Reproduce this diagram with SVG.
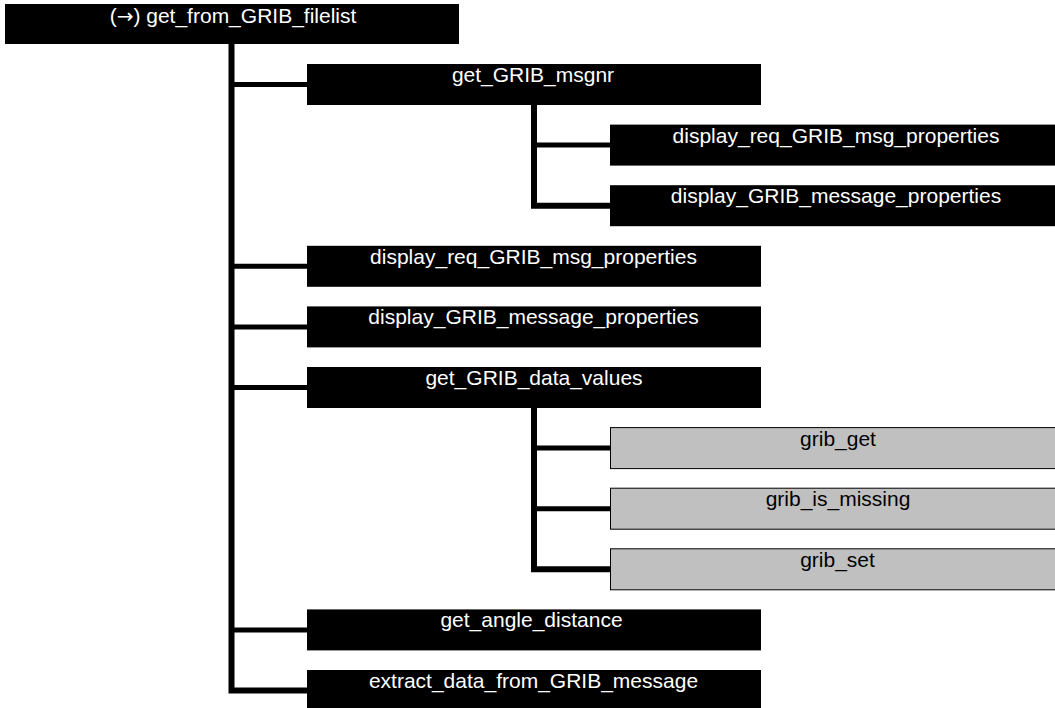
<svg xmlns="http://www.w3.org/2000/svg" width="1055" height="708" viewBox="0 0 1055 708">
<style>
.box{fill:#000;}
.leaf{fill:#c0c0c0;stroke:#000;stroke-width:1;}
.t{font-family:"Liberation Sans",Arial,sans-serif;font-size:21px;text-anchor:middle;fill:#fff;}
.tl{font-family:"Liberation Sans",Arial,sans-serif;font-size:21px;text-anchor:middle;fill:#000;}
.arr{font-family:"DejaVu Sans",sans-serif;font-size:20px;}
.c{fill:none;stroke:#000;stroke-width:6;stroke-linejoin:miter;stroke-linecap:butt;}
.b{fill:none;stroke:#000;stroke-width:5;}
</style>
<rect width="1055" height="708" fill="#fff"/>
<g id="connectors">
  <path class="c" d="M231.5,44 V690.5 H307"/>
  <line class="b" x1="231.5" y1="84.5" x2="307" y2="84.5"/>
  <line class="b" x1="231.5" y1="266.3" x2="307" y2="266.3"/>
  <line class="b" x1="231.5" y1="326.9" x2="307" y2="326.9"/>
  <line class="b" x1="231.5" y1="387.5" x2="307" y2="387.5"/>
  <line class="b" x1="231.5" y1="629.9" x2="307" y2="629.9"/>
  <path class="c" d="M534,105 V205.7 H610"/>
  <line class="b" x1="534" y1="145.1" x2="610" y2="145.1"/>
  <path class="c" d="M534,408 V569.3 H610"/>
  <line class="b" x1="534" y1="448.1" x2="610" y2="448.1"/>
  <line class="b" x1="534" y1="508.7" x2="610" y2="508.7"/>
</g>
<g id="n_root">
  <rect class="box" x="5" y="4" width="454" height="40"/>
  <text class="t" x="233" y="23">(<tspan class="arr">→</tspan>) get_from_GRIB_filelist</text>
</g>
<g id="n_get_GRIB_msgnr">
  <rect class="box" x="307" y="64" width="454" height="41"/>
  <text class="t" x="533" y="82">get_GRIB_msgnr</text>
</g>
<g id="n_display_req_GRIB_msg_properties_1">
  <rect class="box" x="610" y="124.6" width="454" height="41"/>
  <text class="t" x="836" y="142.6">display_req_GRIB_msg_properties</text>
</g>
<g id="n_display_GRIB_message_properties_1">
  <rect class="box" x="610" y="185.2" width="454" height="41"/>
  <text class="t" x="836" y="203.2">display_GRIB_message_properties</text>
</g>
<g id="n_display_req_GRIB_msg_properties_2">
  <rect class="box" x="307" y="245.8" width="454" height="41"/>
  <text class="t" x="533.5" y="263.8">display_req_GRIB_msg_properties</text>
</g>
<g id="n_display_GRIB_message_properties_2">
  <rect class="box" x="307" y="306.4" width="454" height="41"/>
  <text class="t" x="533.5" y="324.4">display_GRIB_message_properties</text>
</g>
<g id="n_get_GRIB_data_values">
  <rect class="box" x="307" y="367" width="454" height="41"/>
  <text class="t" x="534" y="385">get_GRIB_data_values</text>
</g>
<g id="n_grib_get">
  <rect class="leaf" x="610.5" y="427.6" width="454" height="41"/>
  <text class="tl" x="838" y="445.6">grib_get</text>
</g>
<g id="n_grib_is_missing">
  <rect class="leaf" x="610.5" y="488.2" width="454" height="41"/>
  <text class="tl" x="838" y="506.2">grib_is_missing</text>
</g>
<g id="n_grib_set">
  <rect class="leaf" x="610.5" y="548.8" width="454" height="41"/>
  <text class="tl" x="837.5" y="566.8">grib_set</text>
</g>
<g id="n_get_angle_distance">
  <rect class="box" x="307" y="609.4" width="454" height="41"/>
  <text class="t" x="531.5" y="627.4">get_angle_distance</text>
</g>
<g id="n_extract_data_from_GRIB_message">
  <rect class="box" x="307" y="670" width="454" height="41"/>
  <text class="t" x="533.5" y="688">extract_data_from_GRIB_message</text>
</g>
</svg>
